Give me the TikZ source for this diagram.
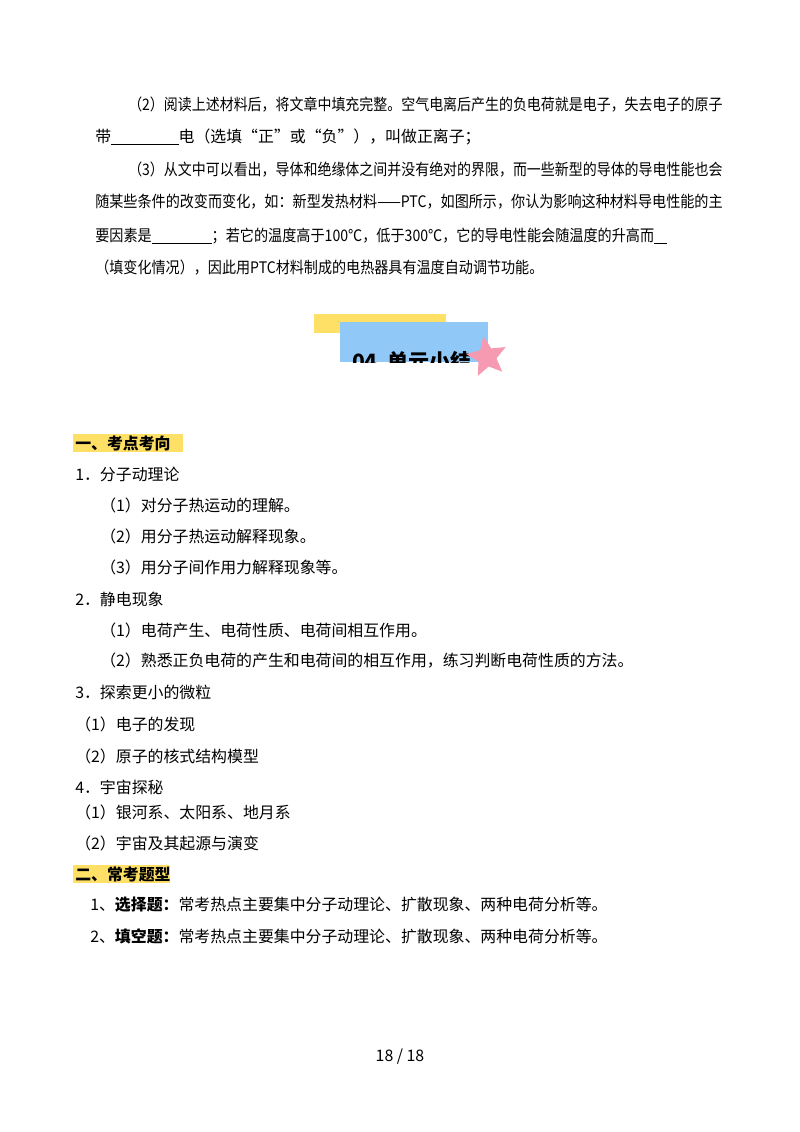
\documentclass[tikz,border=0pt]{standalone}
\usepackage{fontspec}
\usepackage{graphicx}
\setmainfont{Liberation Serif}
\newfontfamily\cjk{Noto Sans CJK SC}
\usetikzlibrary{shapes.geometric, positioning}
\definecolor{hiyellow}{HTML}{FFE066}
\definecolor{bannerblue}{HTML}{90C8F8}
\definecolor{starpink}{HTML}{F59AB0}
\newcommand{\blank}[1]{\rule[-1.5pt]{#1}{0.7pt}}
\newcommand{\fitline}[2]{\resizebox{#1}{\height}{#2}}

\begin{document}
\begin{tikzpicture}[
    x=0.025cm, y=-0.025cm,
    txt/.style = {anchor=west, inner sep=0pt, font=\cjk\fontsize{11.3}{13}\selectfont},
    head/.style = {txt, font=\cjk\bfseries\fontsize{11.3}{13}\selectfont},
    hilite/.style = {fill=hiyellow, draw=none}
]
\useasboundingbox (0,0) rectangle (800,1132);

% Top paragraph
\node[txt] (p1) at (128,105) {\fitline{14.85cm}{（2）阅读上述材料后，将文章中填充完整。空气电离后产生的负电荷就是电子，失去电子的原子}};
\node[txt] (p2) at (95,137) {带\blank{48pt}电（选填“正”或“负”），叫做正离子；};
\node[txt] (p3) at (128,170) {\fitline{14.85cm}{（3）从文中可以看出，导体和绝缘体之间并没有绝对的界限，而一些新型的导体的导电性能也会}};
\node[txt] (p4) at (95,202) {\fitline{15.68cm}{随某些条件的改变而变化，如：新型发热材料——PTC，如图所示，你认为影响这种材料导电性能的主}};
\node[txt] (p5) at (95,236) {\fitline{14.28cm}{要因素是\blank{48pt}；若它的温度高于100℃，低于300℃，它的导电性能会随温度的升高而\blank{10pt}}};
\node[txt] (p6) at (95,268) {\fitline{11.2cm}{（填变化情况），因此用PTC材料制成的电热器具有温度自动调节功能。}};

% Banner
\fill[hiyellow] (314,314) rectangle (446,333);
\fill[bannerblue] (340,322) rectangle (488,362);
\begin{scope}
  \clip (340,322) rectangle (488,362);
  \node[head, anchor=center, font=\cjk\bfseries\fontsize{15}{17}\selectfont] (title) at (412,361) {04\ \ 单元小结};
\end{scope}
\node[star, star points=5, star point ratio=2.2, fill=starpink, minimum size=30pt, inner sep=0pt, rotate=10] (deco) at (487,357) {};

% Section 1
\fill[hilite] (73,434) rectangle (183,452);
\node[head] (s1) at (75,443) {一、考点考向};
\node[txt] (a1) at (75,474) {1．分子动理论};
\node[txt] (a11) at (100,505) {（1）对分子热运动的理解。};
\node[txt] (a12) at (100,536) {（2）用分子热运动解释现象。};
\node[txt] (a13) at (100,567) {（3）用分子间作用力解释现象等。};
\node[txt] (a2) at (75,599) {2．静电现象};
\node[txt] (a21) at (100,630) {（1）电荷产生、电荷性质、电荷间相互作用。};
\node[txt] (a22) at (100,661) {（2）熟悉正负电荷的产生和电荷间的相互作用，练习判断电荷性质的方法。};
\node[txt] (a3) at (75,692) {3．探索更小的微粒};
\node[txt] (a31) at (75,724) {（1）电子的发现};
\node[txt] (a32) at (75,756) {（2）原子的核式结构模型};
\node[txt] (a4) at (75,787) {4．宇宙探秘};
\node[txt] (a41) at (75,812) {（1）银河系、太阳系、地月系};
\node[txt] (a42) at (75,843) {（2）宇宙及其起源与演变};

% Section 2
\fill[hilite] (73,865) rectangle (170,883);
\node[head] (s2) at (75,874) {二、常考题型};
\node[txt] (b1) at (90,905) {1、\textbf{选择题：}常考热点主要集中分子动理论、扩散现象、两种电荷分析等。};
\node[txt] (b2) at (90,936) {2、\textbf{填空题：}常考热点主要集中分子动理论、扩散现象、两种电荷分析等。};

% Page number
\node[txt, anchor=center] (pg) at (400,1057) {18 / 18};
\end{tikzpicture}
\end{document}
